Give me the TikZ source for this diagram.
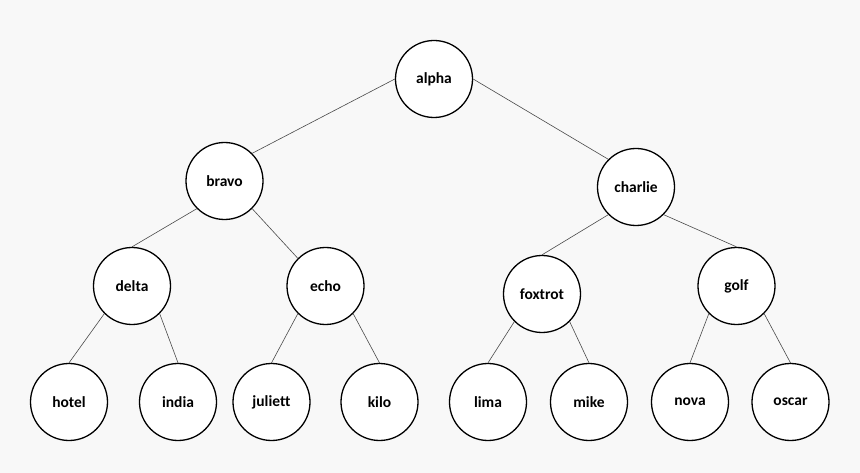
\documentclass[tikz,border=0pt]{standalone}
\usepackage{fontspec}
\setmainfont{Carlito}[Ligatures={NoCommon,NoContextual}]
\definecolor{bg}{HTML}{F8F8F8}
\definecolor{edgecol}{HTML}{4A4A4A}
\begin{document}
\begin{tikzpicture}[x=1pt,y=-1pt,
  tn/.style={circle,draw=black,line width=1.3pt,fill=white,minimum size=77pt,inner sep=0pt,font=\fontsize{15.5}{18}\selectfont\bfseries},
  tedge/.style={draw=edgecol,line width=0.6pt}]
\fill[bg] (0,0) rectangle (860,473);
\useasboundingbox (0,0) rectangle (860,473);
\node[tn] (alpha) at (434,79) {alpha};
\node[tn] (bravo) at (224.5,181) {bravo};
\node[tn] (charlie) at (636,187) {charlie};
\node[tn] (delta) at (132,286) {delta};
\node[tn] (echo) at (325.5,286) {echo};
\node[tn] (foxtrot) at (542,294) {foxtrot};
\node[tn] (golf) at (736.5,286) {golf};
\node[tn] (hotel) at (69,402) {hotel};
\node[tn] (india) at (178,402) {india};
\node[tn] (juliett) at (271.5,402) {julie{}t{}t};
\node[tn] (kilo) at (379.5,402) {kilo};
\node[tn] (lima) at (488,402) {lima};
\node[tn] (mike) at (589,402) {mike};
\node[tn] (nova) at (690,402) {nova};
\node[tn] (oscar) at (790.5,402) {oscar};
\draw[tedge] (alpha.west) -- (bravo.north east);
\draw[tedge] (alpha.east) -- (charlie.north west);
\draw[tedge] (bravo.south west) -- (delta.north);
\draw[tedge] (bravo.south east) -- (echo.north west);
\draw[tedge] (charlie.south west) -- (foxtrot.north);
\draw[tedge] (charlie.south east) -- (golf.north);
\foreach \p/\l/\r in {delta/hotel/india,echo/juliett/kilo,foxtrot/lima/mike,golf/nova/oscar}{
  \draw[tedge] (\p.south west) -- (\l.north);
  \draw[tedge] (\p.south east) -- (\r.north);
}
\end{tikzpicture}
\end{document}
